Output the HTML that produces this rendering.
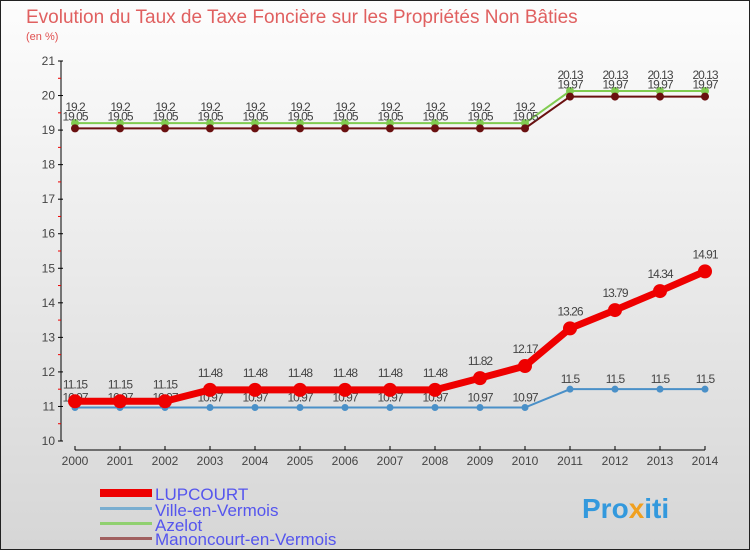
<!DOCTYPE html>
<html><head><meta charset="utf-8"><style>
body{margin:0;width:750px;height:550px;overflow:hidden;font-family:"Liberation Sans",sans-serif}
#c{position:absolute;left:0;top:0;width:748px;height:548px;border:1px solid #222;background:linear-gradient(#fdfdfd,#d6d6d6)}
</style></head><body>
<div id="c"></div>
<svg id="s" width="750" height="550" style="position:absolute;left:0;top:0">
<text x="26" y="23" font-size="19" fill="#e06060">Evolution du Taux de Taxe Foncière sur les Propriétés Non Bâties</text>
<text x="26" y="40" font-size="11" fill="#e05050">(en %)</text>
<g id="g"></g>
<text x="155" y="500" font-size="17" fill="#5555ee">LUPCOURT</text>
<text x="155" y="516" font-size="17" fill="#5555ee">Ville-en-Vermois</text>
<text x="155" y="531" font-size="17" fill="#5555ee">Azelot</text>
<text x="155" y="545" font-size="17" fill="#5555ee">Manoncourt-en-Vermois</text>
<rect x="100" y="489" width="52" height="8" fill="#ee0000"/>
<rect x="100" y="507" width="52" height="3" fill="#7aaed0"/>
<rect x="100" y="522" width="52" height="3" fill="#90d070"/>
<rect x="100" y="537" width="52" height="3" fill="#a06060"/>
<text x="582" y="518" font-size="28" font-weight="bold" fill="#3399dd">Pro<tspan fill="#f0a020">x</tspan>iti</text>
</svg>
<script>
const years=[2000,2001,2002,2003,2004,2005,2006,2007,2008,2009,2010,2011,2012,2013,2014];
const yTicks=[10,11,12,13,14,15,16,17,18,19,20,21];
const lupcourt=[11.15,11.15,11.15,11.48,11.48,11.48,11.48,11.48,11.48,11.82,12.17,13.26,13.79,14.34,14.91];
const ville=[10.97,10.97,10.97,10.97,10.97,10.97,10.97,10.97,10.97,10.97,10.97,11.5,11.5,11.5,11.5];
const azelot=[19.2,19.2,19.2,19.2,19.2,19.2,19.2,19.2,19.2,19.2,19.2,20.13,20.13,20.13,20.13];
const manon=[19.05,19.05,19.05,19.05,19.05,19.05,19.05,19.05,19.05,19.05,19.05,19.97,19.97,19.97,19.97];
const NS="http://www.w3.org/2000/svg",g=document.getElementById('g');
const X=i=>75+i*(630/(years.length-1));
const Y=v=>441-(v-10)*(380/11);
function el(t,a,name){const e=document.createElementNS(NS,t);for(const k in a)e.setAttribute(k,a[k]);


g.appendChild(e);return e;}
el('line',{x1:61,y1:61,x2:61,y2:441,stroke:'#000'},'y-axis');
el('line',{x1:75,y1:450,x2:705,y2:450,stroke:'#000'},'x-axis');
yTicks.forEach(v=>{el('line',{x1:58,x2:63,y1:Y(v),y2:Y(v),stroke:'#000'},'y-tick');
 const t=el('text',{x:55,y:Y(v)+4,'font-size':12,fill:'#444','text-anchor':'end'},'y-tick-label');t.textContent=v;
 if(v<21)el('line',{x1:58,x2:61,y1:Y(v+0.5),y2:Y(v+0.5),stroke:'#e00'},'y-minor-tick');});
years.forEach((y,i)=>{el('line',{x1:X(i),x2:X(i),y1:446,y2:450,stroke:'#000'},'x-tick');
 const t=el('text',{x:X(i),y:465,'font-size':12,fill:'#444','text-anchor':'middle'},'x-tick-label');t.textContent=y;});
function series(d,col,w,r,name,dy,fs){
 el('polyline',{points:d.map((v,i)=>X(i)+','+Y(v)).join(' '),fill:'none',stroke:col,'stroke-width':w},name+'-line');
 d.forEach((v,i)=>{el('circle',{cx:X(i),cy:Y(v),r:r,fill:col},name+'-point');
  const t=el('text',{x:X(i),y:Y(v)+dy,'font-size':fs,fill:'#444','text-anchor':'middle','letter-spacing':-1},name+'-value-label');t.textContent=v;});}
series(ville,'#4a90c8',2,3.5,'ville-en-vermois',-6,12);
series(azelot,'#80cc50',2,4,'azelot',-12,12);
series(manon,'#6a1010',2,4,'manoncourt',-8,12);
series(lupcourt,'#ee0000',7,7,'lupcourt',-13,12);
</script>
</body></html>
